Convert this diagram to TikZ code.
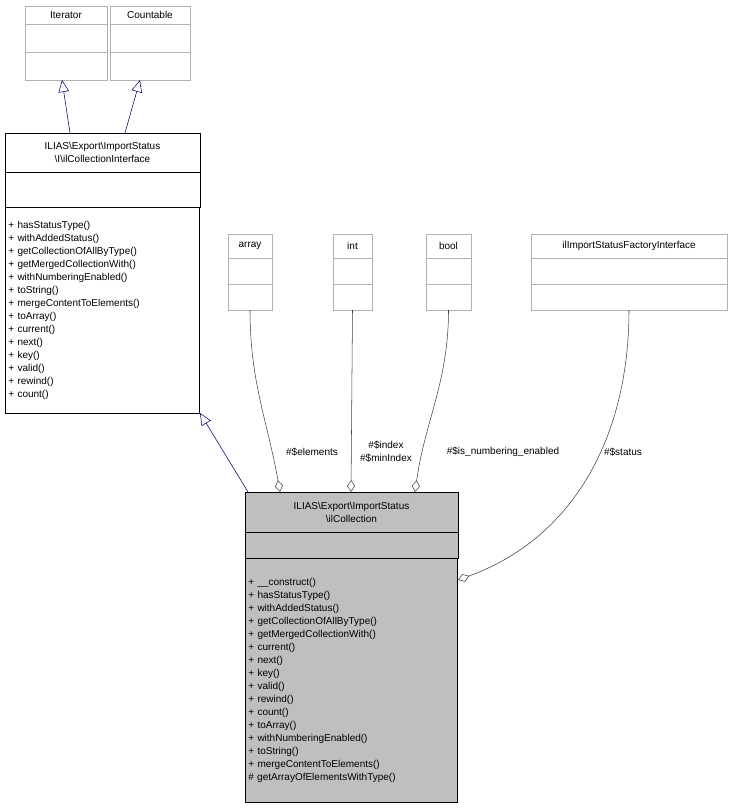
\documentclass[tikz,border=0pt]{standalone}
\usepackage{fontspec}
\setmainfont{Liberation Sans}
\usetikzlibrary{arrows.meta,positioning}

\begin{document}
\begin{tikzpicture}[x=0.75pt,y=-0.75pt,font=\fontsize{7.5}{9.75}\selectfont]
      \tikzset{part/.style={rectangle,draw=#1,inner sep=2pt,outer sep=0pt,align=center},
        part/.default={black},
        ext/.style={part=gray!60},
        cls/.style={part,fill=gray!50},
        gen/.style={draw=blue!40!black,-{Triangle[open,length=9pt,width=8pt]}},
        agg/.style={draw=black!75,{Diamond[open,length=9pt,width=6pt]}-}}
      \useasboundingbox (0,0) rectangle (734,809);

      % outside classes
      \node[ext,minimum width=61.5pt,minimum height=13.5pt,anchor=north west](itT) at (25,6){Iterator};
      \node[ext,minimum width=61.5pt,minimum height=21pt,below=0pt of itT](itA){};
      \node[ext,minimum width=61.5pt,minimum height=21pt,below=0pt of itA](itM){};

      \node[ext,minimum width=60pt,minimum height=13.5pt,anchor=north west](coT) at (110,6){Countable};
      \node[ext,minimum width=60pt,minimum height=21pt,below=0pt of coT](coA){};
      \node[ext,minimum width=60pt,minimum height=21pt,below=0pt of coA](coM){};

      \node[ext,minimum width=33pt,minimum height=18pt,anchor=north west](arT) at (228,234){array};
      \node[ext,minimum width=33pt,minimum height=19.5pt,below=0pt of arT](arA){};
      \node[ext,minimum width=33pt,minimum height=19.5pt,below=0pt of arA](arM){};

      \node[ext,minimum width=29.25pt,minimum height=18pt,anchor=north west](inT) at (333,234){int};
      \node[ext,minimum width=29.25pt,minimum height=19.5pt,below=0pt of inT](inA){};
      \node[ext,minimum width=29.25pt,minimum height=19.5pt,below=0pt of inA](inM){};

      \node[ext,minimum width=33.75pt,minimum height=18pt,anchor=north west](boT) at (426,234){bool};
      \node[ext,minimum width=33.75pt,minimum height=19.5pt,below=0pt of boT](boA){};
      \node[ext,minimum width=33.75pt,minimum height=19.5pt,below=0pt of boA](boM){};

      \node[ext,minimum width=147pt,minimum height=18pt,anchor=north west](faT) at (531,234){ilImportStatusFactoryInterface};
      \node[ext,minimum width=147pt,minimum height=19.5pt,below=0pt of faT](faA){};
      \node[ext,minimum width=147pt,minimum height=19.5pt,below=0pt of faA](faM){};

      % interface
      \node[part,minimum width=146.25pt,minimum height=29.25pt,anchor=north west](ifT) at (5,133)
        {ILIAS\textbackslash Export\textbackslash ImportStatus\\\textbackslash I\textbackslash ilCollectionInterface};
      \node[part,minimum width=146.25pt,minimum height=26.25pt,below=0pt of ifT](ifA){};
      \node[part,text width=141.25pt,minimum height=154.5pt,align=left,below=0pt of ifA](ifM){%
        + hasStatusType()\\+ withAddedStatus()\\+ getCollectionOfAllByType()\\
        + getMergedCollectionWith()\\+ withNumberingEnabled()\\+ toString()\\
        + mergeContentToElements()\\+ toArray()\\+ current()\\+ next()\\+ key()\\
        + valid()\\+ rewind()\\+ count()};

      % main class
      \node[cls,minimum width=159.75pt,minimum height=30pt,anchor=north west](coll) at (245,492)
        {ILIAS\textbackslash Export\textbackslash ImportStatus\\\textbackslash ilCollection};
      \node[cls,minimum width=159.75pt,minimum height=19.5pt,below=0pt of coll](collA){};
      \node[cls,text width=154.75pt,minimum height=183pt,align=left,below=0pt of collA](collM){%
        + \_\_construct()\\+ hasStatusType()\\+ withAddedStatus()\\+ getCollectionOfAllByType()\\
        + getMergedCollectionWith()\\+ current()\\+ next()\\+ key()\\+ valid()\\+ rewind()\\
        + count()\\+ toArray()\\+ withNumberingEnabled()\\+ toString()\\
        + mergeContentToElements()\\\# getArrayOfElementsWithType()};

      \coordinate (ifTop1) at (70,133);
      \coordinate (ifTop2) at (125,133);
      \coordinate (itBot) at (62,80);
      \coordinate (coBot) at (140,80);
      \coordinate (collGen) at (248,492);
      \coordinate (ifBot) at (200,413);
      \coordinate (aggE) at (280,492);
      \coordinate (aggI) at (351,492);
      \coordinate (aggB) at (415,492);
      \coordinate (aggS) at (458,580);

      \draw[gen] (ifTop1) -- (itBot);
      \draw[gen] (ifTop2) -- (coBot);
      \draw[gen] (collGen) -- (ifBot);

      \draw[agg] (aggE) to[out=100,in=-90] (arM.south);
      \draw[agg] (aggI) -- (inM.south);
      \draw[agg] (aggB) to[out=82,in=-90] (boM.south);
      \draw[agg] (aggS) to[out=20,in=-90] (faM.south);

      \node (lE) at (312,452){\#\$elements};
      \node[align=center] (lI) at (386,452){\#\$index\\\#\$minIndex};
      \node (lB) at (503,452){\#\$is\_numbering\_enabled};
      \node (lS) at (623,452){\#\$status};
\end{tikzpicture}
\end{document}
